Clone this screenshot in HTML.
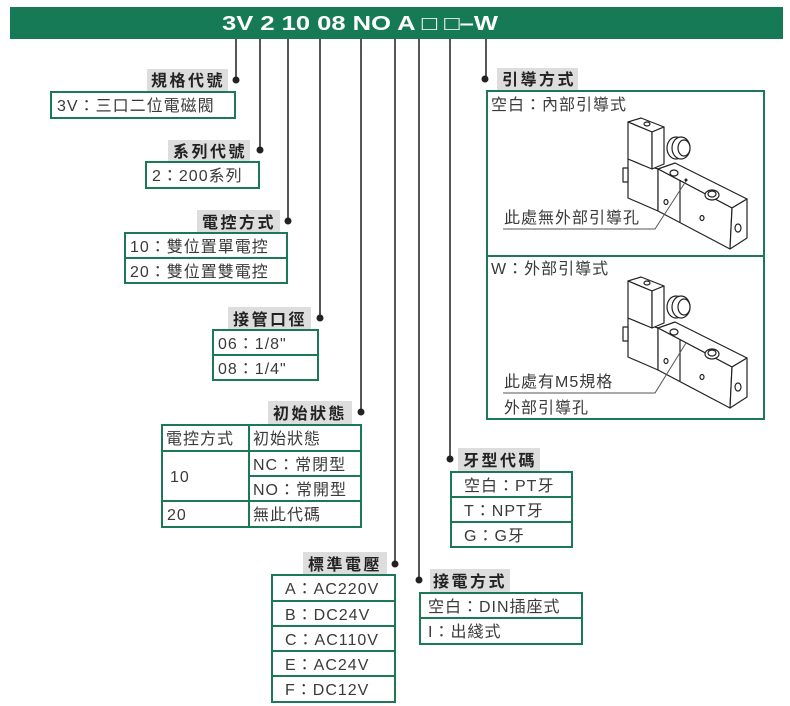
<!DOCTYPE html>
<html><head><meta charset="utf-8"><style>
html,body{margin:0;padding:0;background:#fff;}
svg{display:block;}
text{font-family:"Liberation Sans","Noto Sans CJK TC",sans-serif;}
.t{font-size:16px;fill:#3a3a3a;letter-spacing:1px;}
.l{font-size:16px;font-weight:bold;fill:#222;letter-spacing:2.5px;}
.bx{fill:#fff;stroke:#1b7a55;stroke-width:2;}
.sep{stroke:#1b7a55;stroke-width:2;}
.ln{stroke:#5a5556;stroke-width:2;fill:none;}
.lb{fill:#ddd;}
.v{fill:#fff;stroke:#222;stroke-width:1.2;stroke-linejoin:round;}
</style></head><body>
<svg width="790" height="706" viewBox="0 0 790 706" xmlns="http://www.w3.org/2000/svg">
<defs>
<g id="valve">
 <polygon class="v" points="2,41 32,51 32,93 2,80"/>
 <rect class="v" x="-3" y="50" width="5" height="14"/>
 <polygon class="v" points="32,51 49,45 121,81 106,90"/>
 <polygon class="v" points="32,51 106,90 104,131 32,93"/>
 <polygon class="v" points="106,90 121,81 121,120 104,131"/>
 <line class="v" x1="54" y1="62" x2="54" y2="104"/>
 <polygon class="v" points="2,4 15,0 38,9 26,14"/>
 <polygon class="v" points="2,4 26,14 26,51 2,41"/>
 <polygon class="v" points="26,14 38,9 38,46 26,51"/>
 <ellipse class="v" cx="50" cy="30" rx="9" ry="11"/>
 <ellipse class="v" cx="55" cy="30" rx="9" ry="11"/>
 <ellipse class="v" cx="58" cy="30" rx="6" ry="8"/>
 <ellipse class="v" cx="21" cy="6" rx="3" ry="2"/>
 <ellipse class="v" cx="86" cy="77" rx="7" ry="5"/>
 <ellipse class="v" cx="86" cy="76" rx="4" ry="3"/>
 <ellipse class="v" cx="48" cy="55" rx="4" ry="3"/>
 <ellipse class="v" cx="112" cy="110" rx="3" ry="4"/>
 <ellipse class="v" cx="76" cy="100" rx="2" ry="2.5"/>
 <ellipse class="v" cx="40" cy="84" rx="2" ry="2.5"/>
</g>
</defs>

<rect x="10" y="7" width="773" height="32" fill="#157a55"/>
<text x="222" y="30" font-size="20" font-weight="bold" fill="#fff" textLength="276" lengthAdjust="spacingAndGlyphs">3V 2 10 08 NO A □ □–W</text>

<path class="ln" d="M236 39V80 M260 39V150 M288 39V221 M320 39V318 M361 39V412 M395 39V564 M419 39V580 M450 39V458 M486 39V79"/>
<g fill="#222">
<circle cx="236" cy="80" r="3.5"/><circle cx="260" cy="150" r="3.5"/><circle cx="288" cy="221" r="3.5"/>
<circle cx="320" cy="318" r="3.5"/><circle cx="361" cy="412" r="3.5"/><circle cx="395" cy="564" r="3.5"/>
<circle cx="419" cy="580" r="3.5"/><circle cx="450" cy="459" r="3.5"/><circle cx="485" cy="79" r="3.5"/>
</g>

<rect class="lb" x="147" y="69" width="81" height="22"/>
<text class="l" x="151" y="86">規格代號</text>
<rect class="bx" x="51" y="92" width="184" height="26"/>
<text class="t" x="57" y="111">3V：三口二位電磁閥</text>

<rect class="lb" x="168" y="140" width="82" height="22"/>
<text class="l" x="173" y="157">系列代號</text>
<rect class="bx" x="146" y="162" width="113" height="26"/>
<text class="t" x="152" y="181">2：200系列</text>

<rect class="lb" x="197" y="210" width="83" height="23"/>
<text class="l" x="202" y="228">電控方式</text>
<rect class="bx" x="125" y="233" width="162" height="50"/>
<line class="sep" x1="125" y1="258" x2="287" y2="258"/>
<text class="t" x="130" y="252">10：雙位置單電控</text>
<text class="t" x="130" y="277">20：雙位置雙電控</text>

<rect class="lb" x="228" y="307" width="83" height="23"/>
<text class="l" x="233" y="325">接管口徑</text>
<rect class="bx" x="213" y="330" width="105" height="50"/>
<line class="sep" x1="213" y1="355" x2="318" y2="355"/>
<text class="t" x="218" y="349">06：1/8"</text>
<text class="t" x="218" y="374">08：1/4"</text>

<rect class="lb" x="268" y="401" width="84" height="23"/>
<text class="l" x="273" y="419">初始狀態</text>
<rect class="bx" x="162" y="425" width="199" height="102"/>
<line class="sep" x1="162" y1="451" x2="361" y2="451"/>
<line class="sep" x1="249" y1="476" x2="361" y2="476"/>
<line class="sep" x1="162" y1="501" x2="361" y2="501"/>
<line class="sep" x1="249" y1="425" x2="249" y2="527"/>
<text class="t" x="166" y="444" letter-spacing="0">電控方式</text>
<text class="t" x="253" y="444" letter-spacing="0">初始狀態</text>
<text class="t" x="170" y="482">10</text>
<text class="t" x="253" y="470">NC：常閉型</text>
<text class="t" x="253" y="495">NO：常開型</text>
<text class="t" x="167" y="520">20</text>
<text class="t" x="253" y="520">無此代碼</text>

<rect class="lb" x="303" y="552" width="84" height="23"/>
<text class="l" x="308" y="570">標準電壓</text>
<rect class="bx" x="272" y="575" width="123" height="127"/>
<line class="sep" x1="272" y1="601" x2="395" y2="601"/>
<line class="sep" x1="272" y1="626" x2="395" y2="626"/>
<line class="sep" x1="272" y1="651" x2="395" y2="651"/>
<line class="sep" x1="272" y1="676" x2="395" y2="676"/>
<text class="t" x="285" y="594">A：AC220V</text>
<text class="t" x="285" y="620">B：DC24V</text>
<text class="t" x="285" y="645">C：AC110V</text>
<text class="t" x="285" y="670">E：AC24V</text>
<text class="t" x="285" y="695">F：DC12V</text>

<rect class="lb" x="430" y="569" width="80" height="23"/>
<text class="l" x="433" y="587">接電方式</text>
<rect class="bx" x="420" y="593" width="162" height="51"/>
<line class="sep" x1="420" y1="618" x2="582" y2="618"/>
<text class="t" x="428" y="612">空白：DIN插座式</text>
<text class="t" x="428" y="637">I：出綫式</text>

<rect class="lb" x="458" y="448" width="82" height="23"/>
<text class="l" x="463" y="466">牙型代碼</text>
<rect class="bx" x="451" y="472" width="121" height="75"/>
<line class="sep" x1="451" y1="497" x2="572" y2="497"/>
<line class="sep" x1="451" y1="522" x2="572" y2="522"/>
<text class="t" x="464" y="491">空白：PT牙</text>
<text class="t" x="464" y="516">T：NPT牙</text>
<text class="t" x="464" y="541">G：G牙</text>

<rect class="lb" x="497" y="68" width="81" height="22"/>
<text class="l" x="502" y="85">引導方式</text>
<rect class="bx" x="487" y="91" width="277" height="328"/>
<line class="sep" x1="487" y1="256" x2="764" y2="256"/>
<text class="t" x="491" y="110">空白：內部引導式</text>
<text class="t" x="491" y="274">W：外部引導式</text>

<use href="#valve" transform="translate(626,118)"/>
<use href="#valve" transform="translate(626,277)"/>

<text class="t" x="504" y="223">此處無外部引導孔</text>
<path d="M503 229H655L686 181" stroke="#555" stroke-width="1" fill="none"/>
<circle cx="686" cy="180" r="1.5" fill="#222"/>
<text class="t" x="504" y="387">此處有M5規格</text>
<text class="t" x="504" y="413">外部引導孔</text>
<path d="M503 393H655L686 343" stroke="#555" stroke-width="1" fill="none"/>
</svg>
</body></html>
